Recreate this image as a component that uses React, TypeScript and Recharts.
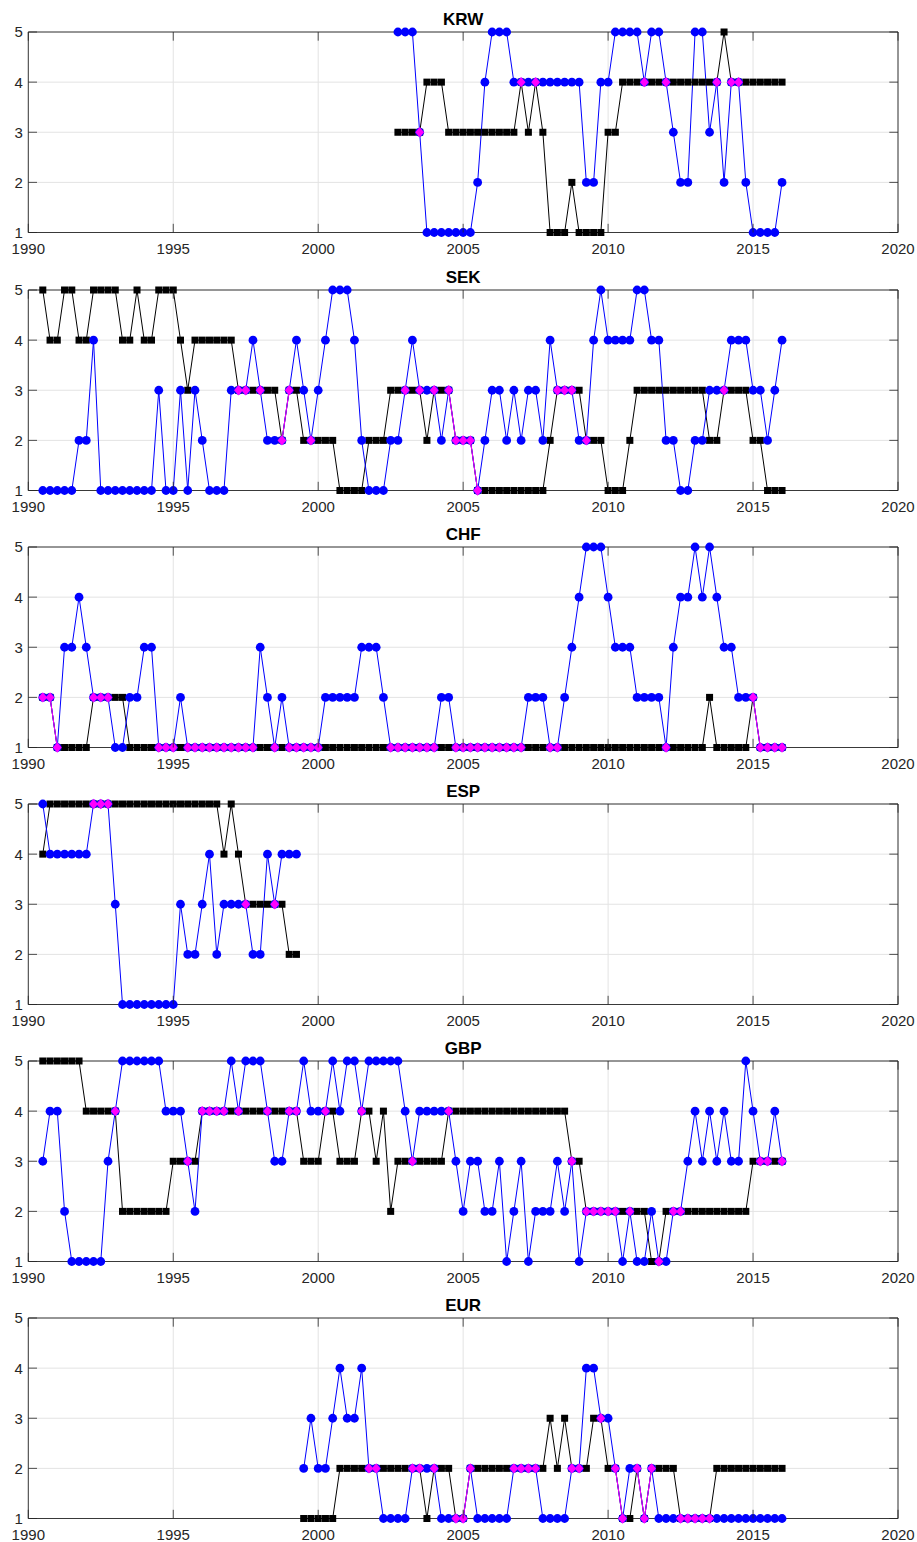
import React from 'react';
import { LineChart, Line, XAxis, YAxis, CartesianGrid, ReferenceArea } from 'recharts';

const X_TICKS = [1990, 1995, 2000, 2005, 2010, 2015, 2020];
const Y_TICKS = [1, 2, 3, 4, 5];
// quarterly dates 1990.5 ... 2016.0
const QUARTERS: number[] = Array.from({ length: 103 }, (_, k) => 1990.5 + k * 0.25);

// KRW (first quarter 2002.75)
const KRW_START = 2002.75;
const KRW_BLUE = [
  5, 5, 5, 3, 1, 1, 1, 1, 1, 1,
  1, 2, 4, 5, 5, 5, 4, 4, 4, 4,
  4, 4, 4, 4, 4, 4, 2, 2, 4, 4,
  5, 5, 5, 5, 4, 5, 5, 4, 3, 2,
  2, 5, 5, 3, 4, 2, 4, 4, 2, 1,
  1, 1, 1, 2,
];
const KRW_BLACK = [
  3, 3, 3, 3, 4, 4, 4, 3, 3, 3,
  3, 3, 3, 3, 3, 3, 3, 4, 3, 4,
  3, 1, 1, 1, 2, 1, 1, 1, 1, 3,
  3, 4, 4, 4, 4, 4, 4, 4, 4, 4,
  4, 4, 4, 4, 4, 5, 4, 4, 4, 4,
  4, 4, 4, 4,
];

// SEK (first quarter 1990.5)
const SEK_START = 1990.5;
const SEK_BLUE = [
  1, 1, 1, 1, 1, 2, 2, 4, 1, 1,
  1, 1, 1, 1, 1, 1, 3, 1, 1, 3,
  1, 3, 2, 1, 1, 1, 3, 3, 3, 4,
  3, 2, 2, 2, 3, 4, 3, 2, 3, 4,
  5, 5, 5, 4, 2, 1, 1, 1, 2, 2,
  3, 4, 3, 3, 3, 2, 3, 2, 2, 2,
  1, 2, 3, 3, 2, 3, 2, 3, 3, 2,
  4, 3, 3, 3, 2, 2, 4, 5, 4, 4,
  4, 4, 5, 5, 4, 4, 2, 2, 1, 1,
  2, 2, 3, 3, 3, 4, 4, 4, 3, 3,
  2, 3, 4,
];
const SEK_BLACK = [
  5, 4, 4, 5, 5, 4, 4, 5, 5, 5,
  5, 4, 4, 5, 4, 4, 5, 5, 5, 4,
  3, 4, 4, 4, 4, 4, 4, 3, 3, 3,
  3, 3, 3, 2, 3, 3, 2, 2, 2, 2,
  2, 1, 1, 1, 1, 2, 2, 2, 3, 3,
  3, 3, 3, 2, 3, 3, 3, 2, 2, 2,
  1, 1, 1, 1, 1, 1, 1, 1, 1, 1,
  2, 3, 3, 3, 3, 2, 2, 2, 1, 1,
  1, 2, 3, 3, 3, 3, 3, 3, 3, 3,
  3, 3, 2, 2, 3, 3, 3, 3, 2, 2,
  1, 1, 1,
];

// CHF (first quarter 1990.5)
const CHF_START = 1990.5;
const CHF_BLUE = [
  2, 2, 1, 3, 3, 4, 3, 2, 2, 2,
  1, 1, 2, 2, 3, 3, 1, 1, 1, 2,
  1, 1, 1, 1, 1, 1, 1, 1, 1, 1,
  3, 2, 1, 2, 1, 1, 1, 1, 1, 2,
  2, 2, 2, 2, 3, 3, 3, 2, 1, 1,
  1, 1, 1, 1, 1, 2, 2, 1, 1, 1,
  1, 1, 1, 1, 1, 1, 1, 2, 2, 2,
  1, 1, 2, 3, 4, 5, 5, 5, 4, 3,
  3, 3, 2, 2, 2, 2, 1, 3, 4, 4,
  5, 4, 5, 4, 3, 3, 2, 2, 2, 1,
  1, 1, 1,
];
const CHF_BLACK = [
  2, 2, 1, 1, 1, 1, 1, 2, 2, 2,
  2, 2, 1, 1, 1, 1, 1, 1, 1, 1,
  1, 1, 1, 1, 1, 1, 1, 1, 1, 1,
  1, 1, 1, 1, 1, 1, 1, 1, 1, 1,
  1, 1, 1, 1, 1, 1, 1, 1, 1, 1,
  1, 1, 1, 1, 1, 1, 1, 1, 1, 1,
  1, 1, 1, 1, 1, 1, 1, 1, 1, 1,
  1, 1, 1, 1, 1, 1, 1, 1, 1, 1,
  1, 1, 1, 1, 1, 1, 1, 1, 1, 1,
  1, 1, 2, 1, 1, 1, 1, 1, 2, 1,
  1, 1, 1,
];

// ESP (first quarter 1990.5)
const ESP_START = 1990.5;
const ESP_BLUE = [
  5, 4, 4, 4, 4, 4, 4, 5, 5, 5,
  3, 1, 1, 1, 1, 1, 1, 1, 1, 3,
  2, 2, 3, 4, 2, 3, 3, 3, 3, 2,
  2, 4, 3, 4, 4, 4,
];
const ESP_BLACK = [
  4, 5, 5, 5, 5, 5, 5, 5, 5, 5,
  5, 5, 5, 5, 5, 5, 5, 5, 5, 5,
  5, 5, 5, 5, 5, 4, 5, 4, 3, 3,
  3, 3, 3, 3, 2, 2,
];

// GBP (first quarter 1990.5)
const GBP_START = 1990.5;
const GBP_BLUE = [
  3, 4, 4, 2, 1, 1, 1, 1, 1, 3,
  4, 5, 5, 5, 5, 5, 5, 4, 4, 4,
  3, 2, 4, 4, 4, 4, 5, 4, 5, 5,
  5, 4, 3, 3, 4, 4, 5, 4, 4, 4,
  5, 4, 5, 5, 4, 5, 5, 5, 5, 5,
  4, 3, 4, 4, 4, 4, 4, 3, 2, 3,
  3, 2, 2, 3, 1, 2, 3, 1, 2, 2,
  2, 3, 2, 3, 1, 2, 2, 2, 2, 2,
  1, 2, 1, 1, 2, 1, 1, 2, 2, 3,
  4, 3, 4, 3, 4, 3, 3, 5, 4, 3,
  3, 4, 3,
];
const GBP_BLACK = [
  5, 5, 5, 5, 5, 5, 4, 4, 4, 4,
  4, 2, 2, 2, 2, 2, 2, 2, 3, 3,
  3, 3, 4, 4, 4, 4, 4, 4, 4, 4,
  4, 4, 4, 4, 4, 4, 3, 3, 3, 4,
  4, 3, 3, 3, 4, 4, 3, 4, 2, 3,
  3, 3, 3, 3, 3, 3, 4, 4, 4, 4,
  4, 4, 4, 4, 4, 4, 4, 4, 4, 4,
  4, 4, 4, 3, 3, 2, 2, 2, 2, 2,
  2, 2, 2, 2, 1, 1, 2, 2, 2, 2,
  2, 2, 2, 2, 2, 2, 2, 2, 3, 3,
  3, 3, 3,
];

// EUR (first quarter 1999.5)
const EUR_START = 1999.5;
const EUR_BLUE = [
  2, 3, 2, 2, 3, 4, 3, 3, 4, 2,
  2, 1, 1, 1, 1, 2, 2, 2, 2, 1,
  1, 1, 1, 2, 1, 1, 1, 1, 1, 2,
  2, 2, 2, 1, 1, 1, 1, 2, 2, 4,
  4, 3, 3, 2, 1, 2, 2, 1, 2, 1,
  1, 1, 1, 1, 1, 1, 1, 1, 1, 1,
  1, 1, 1, 1, 1, 1, 1,
];
const EUR_BLACK = [
  1, 1, 1, 1, 1, 2, 2, 2, 2, 2,
  2, 2, 2, 2, 2, 2, 2, 1, 2, 2,
  2, 1, 1, 2, 2, 2, 2, 2, 2, 2,
  2, 2, 2, 2, 3, 2, 3, 2, 2, 2,
  3, 3, 2, 2, 1, 1, 2, 1, 2, 2,
  2, 2, 1, 1, 1, 1, 1, 2, 2, 2,
  2, 2, 2, 2, 2, 2, 2,
];

const PANELS = [
  { title: 'KRW', start: KRW_START, blue: KRW_BLUE, black: KRW_BLACK },
  { title: 'SEK', start: SEK_START, blue: SEK_BLUE, black: SEK_BLACK },
  { title: 'CHF', start: CHF_START, blue: CHF_BLUE, black: CHF_BLACK },
  { title: 'ESP', start: ESP_START, blue: ESP_BLUE, black: ESP_BLACK },
  { title: 'GBP', start: GBP_START, blue: GBP_BLUE, black: GBP_BLACK },
  { title: 'EUR', start: EUR_START, blue: EUR_BLUE, black: EUR_BLACK },
];

// layout
const CHART_W = 917;
const CHART_H = 257;
const M_TOP = 30;
const M_RIGHT = 19;
const Y_AXIS_W = 28.3;
const X_AXIS_H = 26.5;
const PLOT_W = CHART_W - Y_AXIS_W - M_RIGHT;
const PLOT_H = CHART_H - M_TOP - X_AXIS_H;
const FIRST_TOP = 2.3;
const PANEL_STEP = 257.2;
const TICK_LEN = 8.7;

const AXIS = '#262626';
const GRID = '#e3e3e3';
const BLUE = '#0000ff';
const MAGENTA = '#ff00ff';
const FONT = '"Liberation Sans", Arial, Helvetica, sans-serif';

const XTick = (props: any) => {
  const { x, y, payload } = props;
  return (
    <g>
      <line x1={x} y1={y} x2={x} y2={y - TICK_LEN} stroke={AXIS} strokeWidth={0.8} />
      <line x1={x} y1={y - PLOT_H} x2={x} y2={y - PLOT_H + TICK_LEN} stroke={AXIS} strokeWidth={0.8} />
      <text x={x} y={y + 21.3} textAnchor="middle" fontSize={15} fontFamily={FONT} fill={AXIS}>
        {payload.value}
      </text>
    </g>
  );
};

const YTick = (props: any) => {
  const { x, y, payload } = props;
  return (
    <g>
      <line x1={x} y1={y} x2={x + TICK_LEN} y2={y} stroke={AXIS} strokeWidth={0.8} />
      <line x1={x + PLOT_W} y1={y} x2={x + PLOT_W - TICK_LEN} y2={y} stroke={AXIS} strokeWidth={0.8} />
      <text x={x - 5.5} y={y + 5.4} textAnchor="end" fontSize={15} fontFamily={FONT} fill={AXIS}>
        {payload.value}
      </text>
    </g>
  );
};

const bad = (p: any) =>
  p.cx == null || p.cy == null || Number.isNaN(p.cx) || Number.isNaN(p.cy) || p.value == null;

const SquareDot = (p: any) => {
  if (bad(p)) return <g key={`sq${p.index}`} />;
  return <rect key={`sq${p.index}`} x={p.cx - 3.5} y={p.cy - 3.5} width={7} height={7} fill="#000" />;
};
const CircleDot = (p: any) => {
  if (bad(p)) return <g key={`ci${p.index}`} />;
  return <circle key={`ci${p.index}`} cx={p.cx} cy={p.cy} r={4.4} fill={BLUE} />;
};
const DiamondDot = (p: any) => {
  if (bad(p)) return <g key={`di${p.index}`} />;
  const { cx, cy } = p;
  return (
    <polygon
      key={`di${p.index}`}
      points={`${cx},${cy - 5.2} ${cx + 4.4},${cy} ${cx},${cy + 5.2} ${cx - 4.4},${cy}`}
      fill={MAGENTA}
    />
  );
};

const Panel = ({ title, start, blue, black, top }: any) => {
  const data = QUARTERS.map((t) => {
    const i = Math.round((t - start) * 4);
    const b = i >= 0 && i < blue.length ? blue[i] : null;
    const k = i >= 0 && i < black.length ? black[i] : null;
    return { t, blue: b, black: k, both: b !== null && b === k ? b : null };
  });
  return (
    <div style={{ position: 'absolute', left: 0, top, width: CHART_W, height: CHART_H }}>
      <svg
        width={CHART_W}
        height={M_TOP}
        style={{ position: 'absolute', left: 0, top: 0, overflow: 'visible' }}
      >
        <text
          x={Y_AXIS_W + PLOT_W / 2}
          y={M_TOP - 7.3}
          textAnchor="middle"
          fontSize={17}
          fontWeight="bold"
          fontFamily={FONT}
          fill="#000"
        >
          {title}
        </text>
      </svg>
      <div style={{ position: 'absolute', left: 0, top: 0 }}>
        <LineChart
          width={CHART_W}
          height={CHART_H}
          data={data}
          margin={{ top: M_TOP, right: M_RIGHT, bottom: 0, left: 0 }}
        >
          <CartesianGrid stroke={GRID} strokeWidth={1} />
          <XAxis
            dataKey="t"
            type="number"
            domain={[1990, 2020]}
            ticks={X_TICKS}
            interval={0}
            height={X_AXIS_H}
            axisLine={false}
            tickLine={false}
            tickSize={0}
            tickMargin={0}
            tick={<XTick />}
          />
          <YAxis
            type="number"
            domain={[1, 5]}
            ticks={Y_TICKS}
            interval={0}
            width={Y_AXIS_W}
            axisLine={false}
            tickLine={false}
            tickSize={0}
            tickMargin={0}
            tick={<YTick />}
          />
          <ReferenceArea
            x1={1990}
            x2={2020}
            y1={1}
            y2={5}
            fill="none"
            fillOpacity={0}
            stroke={AXIS}
            strokeWidth={0.9}
          />
          <Line
            dataKey="black"
            stroke="#000"
            strokeWidth={1}
            dot={SquareDot}
            activeDot={false}
            isAnimationActive={false}
            connectNulls={false}
          />
          <Line
            dataKey="blue"
            stroke={BLUE}
            strokeWidth={1}
            dot={CircleDot}
            activeDot={false}
            isAnimationActive={false}
            connectNulls={false}
          />
          <Line
            dataKey="both"
            stroke={MAGENTA}
            strokeWidth={1}
            dot={DiamondDot}
            activeDot={false}
            isAnimationActive={false}
            connectNulls={false}
          />
        </LineChart>
      </div>
    </div>
  );
}

export default function App() {
  return (
    <div
      style={{
        position: 'absolute',
        left: 0,
        top: 0,
        width: CHART_W,
        height: 1542,
        background: '#fff',
        overflow: 'hidden',
      }}
    >
      {PANELS.map((p, i) => (
        <Panel key={p.title} {...p} top={FIRST_TOP + PANEL_STEP * i} />
      ))}
    </div>
  );
}
